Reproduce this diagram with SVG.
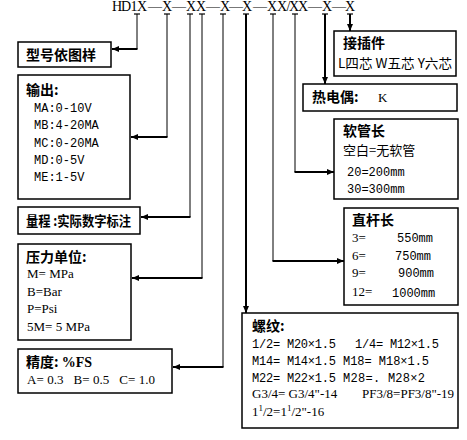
<svg xmlns="http://www.w3.org/2000/svg" width="467" height="440" viewBox="0 0 467 440">
<defs>
<marker id="ah" markerUnits="userSpaceOnUse" markerWidth="8" markerHeight="8" refX="7" refY="4" orient="auto">
<path d="M0,1 L7,4 L0,7 z" fill="#000"/>
</marker>
<style>
.box{fill:#fff;stroke:#000;stroke-width:1.5}
.t{font-family:"Noto Sans CJK SC",sans-serif;font-weight:bold;font-size:14px;fill:#000}
.m{font-family:"Liberation Mono",monospace;font-size:12px;fill:#000}
.s{font-family:"Liberation Serif",serif;font-size:13px;fill:#000}
.c{font-family:"Noto Sans CJK SC",sans-serif;font-size:13px;fill:#000}
.code{font-family:"Liberation Serif",serif;font-size:14px;fill:#000}
.thin{fill:none;stroke:#000;stroke-width:1}
.thick{fill:none;stroke:#000;stroke-width:2}
.tick{stroke:#000;stroke-width:1.2}
</style>
</defs>
<rect width="467" height="440" fill="#fff"/>

<text class="code" text-anchor="middle" y="11" x="117 126 134 142 155 167 179 191 201 213 225 236 247 260 272 282 288.5 294 303 315 327 339 350">HD1X—X—XX—X—X—XX/XX—X—X</text>

<g id="connectors">
<g class="tick">
<line x1="134" y1="14" x2="140" y2="14"/>
<line x1="164" y1="14" x2="170" y2="14"/>
<line x1="187" y1="14" x2="193" y2="14"/>
<line x1="199" y1="14" x2="205" y2="14"/>
<line x1="220" y1="14" x2="226" y2="14"/>
<line x1="243" y1="14" x2="249" y2="14"/>
<line x1="270" y1="14" x2="276" y2="14"/>
<line x1="292" y1="14" x2="298" y2="14"/>
<line x1="322" y1="14" x2="328" y2="14"/>
<line x1="347" y1="14" x2="353" y2="14"/>
</g>
<path class="thin" d="M137,14 V49"/>
<path class="thick" d="M137.5,49 H112" marker-end="url(#ah)"/>
<path class="thin" d="M167,14 V137"/>
<path class="thick" d="M167.5,137 H131" marker-end="url(#ah)"/>
<path class="thin" d="M190,14 V217"/>
<path class="thick" d="M190.5,217 H141" marker-end="url(#ah)"/>
<path class="thin" d="M202,14 V278"/>
<path class="thick" d="M202.5,278 H132" marker-end="url(#ah)"/>
<path class="thin" d="M223,14 V367"/>
<path class="thick" d="M223.5,367 H173" marker-end="url(#ah)"/>
<path class="thick" d="M246,14 V313" marker-end="url(#ah)"/>
<path class="thin" d="M273,14 V261"/>
<path class="thick" d="M272.5,261 H344" marker-end="url(#ah)"/>
<path class="thin" d="M295,14 V172"/>
<path class="thick" d="M294.5,172 H334" marker-end="url(#ah)"/>
<path class="thick" d="M325,14 V84" marker-end="url(#ah)"/>
<path class="thick" d="M350,14 V31" marker-end="url(#ah)"/>
</g>

<g id="model">
<rect class="box" x="18" y="42" width="93" height="25"/>
<text class="t" x="26" y="60" font-size="14">型号依图样</text>
</g>

<g id="output">
<rect class="box" x="18" y="75" width="112" height="124"/>
<text class="t" x="26" y="95">输出:</text>
<text class="m" x="34" y="112">MA:0-10V</text>
<text class="m" x="34" y="129">MB:4-20MA</text>
<text class="m" x="34" y="147">MC:0-20MA</text>
<text class="m" x="34" y="164">MD:0-5V</text>
<text class="m" x="34" y="181">ME:1-5V</text>
</g>

<g id="range">
<rect class="box" x="18" y="207" width="122" height="27"/>
<text class="t" x="26" y="226" font-size="13" textLength="105" lengthAdjust="spacingAndGlyphs">量程 :实际数字标注</text>
</g>

<g id="unit">
<rect class="box" x="18" y="244" width="113" height="96"/>
<text class="t" x="26" y="262">压力单位:</text>
<text class="s" x="27" y="278">M= MPa</text>
<text class="s" x="27" y="296">B=Bar</text>
<text class="s" x="27" y="313">P=Psi</text>
<text class="s" x="27" y="331">5M= 5 MPa</text>
</g>

<g id="accuracy">
<rect class="box" x="18" y="349" width="154" height="44"/>
<text class="t" x="26" y="367">精度: <tspan font-family="Liberation Serif,serif">%FS</tspan></text>
<text class="s" x="27" y="384" xml:space="preserve" textLength="128">A= 0.3   B= 0.5   C= 1.0</text>
</g>

<g id="connector-type">
<rect class="box" x="334" y="31" width="122" height="45"/>
<text class="t" x="343" y="48">接插件</text>
<text class="c" x="338" y="68" font-size="12" textLength="114" lengthAdjust="spacingAndGlyphs">L四芯 W五芯 Y六芯</text>
</g>

<g id="thermocouple">
<rect class="box" x="303" y="84" width="154" height="27"/>
<text class="t" x="312" y="102">热电偶:</text>
<text class="s" x="378" y="102">K</text>
</g>

<g id="hose">
<rect class="box" x="334" y="119" width="124" height="80"/>
<text class="t" x="343" y="136">软管长</text>
<text class="c" x="343" y="155">空白=无软管</text>
<text class="m" x="347" y="176">20=200mm</text>
<text class="m" x="347" y="193">30=300mm</text>
</g>

<g id="rod">
<rect class="box" x="344" y="208" width="114" height="97"/>
<text class="t" x="352" y="225">直杆长</text>
<text class="s" x="352" y="242">3=</text>
<text class="m" x="397" y="242">550mm</text>
<text class="s" x="352" y="260">6=</text>
<text class="m" x="395" y="260">750mm</text>
<text class="s" x="352" y="277">9=</text>
<text class="m" x="398" y="277">900mm</text>
<text class="s" x="352" y="296">12=</text>
<text class="m" x="392" y="297">1000mm</text>
</g>

<g id="thread">
<rect class="box" x="242" y="313" width="216" height="115"/>
<text class="t" x="252" y="331">螺纹:</text>
<text class="m" x="252" y="348" textLength="84">1/2= M20×1.5</text>
<text class="m" x="355" y="348" textLength="84">1/4= M12×1.5</text>
<text class="m" x="252" y="365" textLength="84">M14= M14×1.5</text>
<text class="m" x="343" y="365" textLength="86">M18= M18×1.5</text>
<text class="m" x="252" y="382" textLength="84">M22= M22×1.5</text>
<text class="m" x="343" y="382" textLength="82">M28=. M28×2</text>
<text class="s" x="252" y="398">G3/4= G3/4"-14</text>
<text class="s" x="362" y="398">PF3/8=PF3/8"-19</text>
<text class="s" x="252" y="416">1<tspan font-size="9" dy="-5">1</tspan><tspan dy="5">/2=1</tspan><tspan font-size="9" dy="-5">1</tspan><tspan dy="5">/2"-16</tspan></text>
</g>
</svg>
